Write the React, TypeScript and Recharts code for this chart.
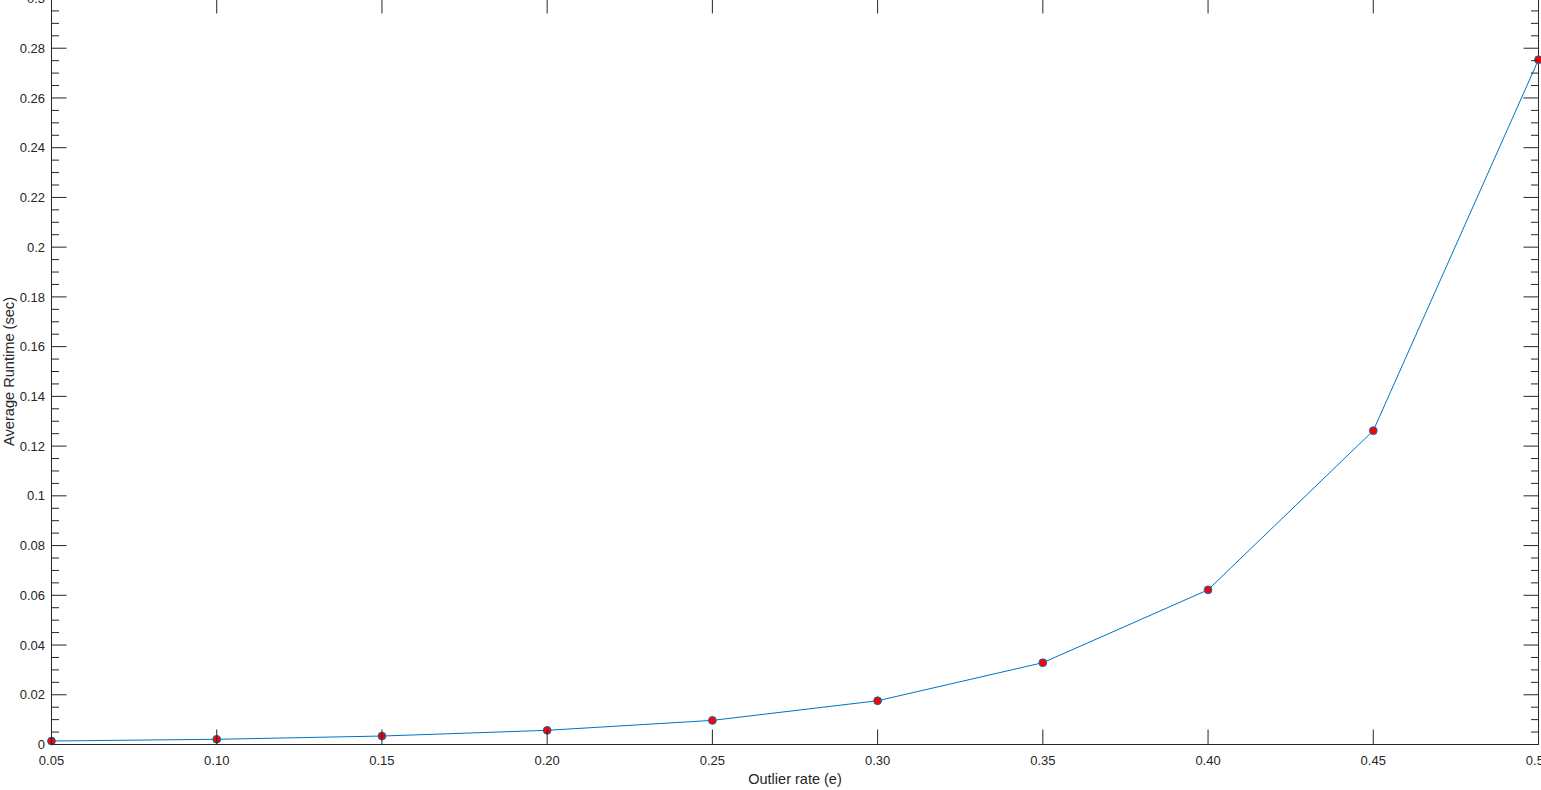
import React from 'react';
import { LineChart, Line, XAxis, YAxis, ReferenceLine } from 'recharts';

// ---- data ----
const outlierRates = [0.05, 0.1, 0.15, 0.2, 0.25, 0.3, 0.35, 0.4, 0.45, 0.5];
const avgRuntime = [0.0014, 0.0021, 0.0034, 0.0057, 0.0097, 0.0176, 0.0329, 0.0622, 0.1262, 0.2754];

// ---- tick labels ----
const xTicks = [0.05, 0.1, 0.15, 0.2, 0.25, 0.3, 0.35, 0.4, 0.45, 0.5];
const xTickLabels = ['0.05', '0.10', '0.15', '0.20', '0.25', '0.30', '0.35', '0.40', '0.45', '0.50'];
const yMajorTicks = [0, 0.02, 0.04, 0.06, 0.08, 0.1, 0.12, 0.14, 0.16, 0.18, 0.2, 0.22, 0.24, 0.26, 0.28, 0.3];
const yTickLabels = ['0', '0.02', '0.04', '0.06', '0.08', '0.1', '0.12', '0.14', '0.16', '0.18', '0.2', '0.22', '0.24', '0.26', '0.28', '0.3'];
const yAllTicks = Array.from({ length: 61 }, (_, i) => (i * 5) / 1000);

const data = outlierRates.map((x, i) => ({ x, y: avgRuntime[i] }));

// ---- layout / style ----
const W = 1541;
const H = 790;
const MARGIN = { top: -1.5, right: 2.5, bottom: 0, left: 0 };
const Y_AXIS_W = 51.5;
const X_AXIS_H = 45.5;
const PLOT_TOP = MARGIN.top;
const PLOT_RIGHT = W - MARGIN.right;
const INK = '#262626';
const FONT = '"Liberation Sans", Arial, Helvetica, sans-serif';
const MAJOR_LEN = 15;
const MINOR_LEN = 7.5;

const findIdx = (arr: number[], v: number) => arr.findIndex((t) => Math.abs(t - v) < 1e-9);

const YTick = (props: any) => {
  const { x, y, payload } = props;
  const idx = findIdx(yMajorTicks, payload.value);
  const len = idx >= 0 ? MAJOR_LEN : MINOR_LEN;
  return (
    <g>
      <line x1={x} y1={y} x2={x + len} y2={y} stroke={INK} strokeWidth={1} />
      <line x1={PLOT_RIGHT} y1={y} x2={PLOT_RIGHT - len} y2={y} stroke={INK} strokeWidth={1} />
      {idx >= 0 && (
        <text x={x - 6.5} y={y + 4.6} textAnchor="end" fill={INK} fontSize={13} fontFamily={FONT}>
          {yTickLabels[idx]}
        </text>
      )}
    </g>
  );
};

const XTick = (props: any) => {
  const { x, y, payload } = props;
  const idx = findIdx(xTicks, payload.value);
  return (
    <g>
      <line x1={x} y1={y} x2={x} y2={y - MAJOR_LEN} stroke={INK} strokeWidth={1} />
      <line x1={x} y1={PLOT_TOP} x2={x} y2={PLOT_TOP + MAJOR_LEN} stroke={INK} strokeWidth={1} />
      <text x={x} y={y + 20} textAnchor="middle" fill={INK} fontSize={13} fontFamily={FONT}>
        {idx >= 0 ? xTickLabels[idx] : ''}
      </text>
    </g>
  );
};

export default function App() {
  return (
    <div style={{ position: 'absolute', left: 0, top: 0, width: W, height: H, background: '#fff' }}>
      <LineChart width={W} height={H} data={data} margin={MARGIN}>
        <XAxis
          dataKey="x"
          type="number"
          domain={[0.05, 0.5]}
          ticks={xTicks}
          interval={0}
          height={X_AXIS_H}
          tickLine={false}
          tickSize={0}
          tickMargin={0}
          axisLine={{ stroke: INK, strokeWidth: 1 }}
          tick={(p: any) => <XTick {...p} />}
          label={{
            value: 'Outlier rate (e)',
            position: 'insideBottom',
            offset: 6,
            fill: INK,
            fontSize: 14.5,
            fontFamily: FONT,
          }}
        />
        <YAxis
          type="number"
          domain={[0, 0.3]}
          ticks={yAllTicks}
          interval={0}
          width={Y_AXIS_W}
          tickLine={false}
          tickSize={0}
          tickMargin={0}
          axisLine={{ stroke: INK, strokeWidth: 1 }}
          tick={(p: any) => <YTick {...p} />}
          label={{
            value: 'Average Runtime (sec)',
            angle: -90,
            position: 'insideLeft',
            offset: 9,
            fill: INK,
            fontSize: 14.6,
            fontFamily: FONT,
            style: { textAnchor: 'middle' },
          }}
        />
        <ReferenceLine x={0.5} stroke={INK} strokeWidth={1} ifOverflow="visible" />
        <Line
          dataKey="y"
          type="linear"
          stroke="#0072BD"
          strokeWidth={1}
          dot={{ r: 3.9, fill: '#FF0000', stroke: '#0072BD', strokeWidth: 1 }}
          activeDot={false}
          isAnimationActive={false}
        />
      </LineChart>
    </div>
  );
}
